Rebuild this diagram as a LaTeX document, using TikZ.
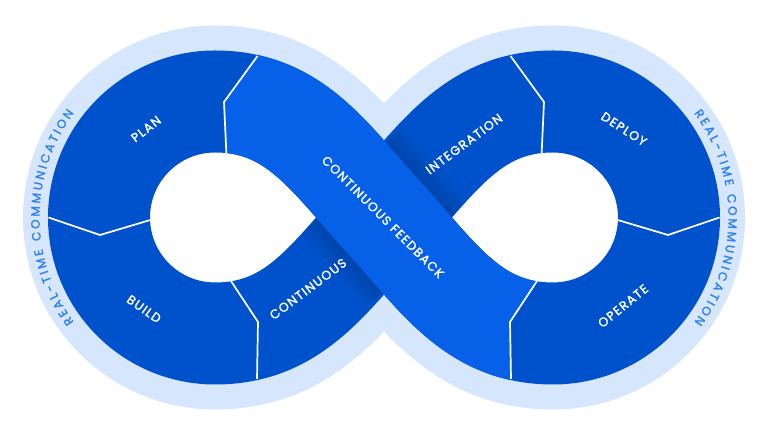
\documentclass[tikz,border=0pt]{standalone}
\usepackage{fontspec}
\setmainfont{Poppins}[LetterSpace=10, FakeBold=1.6]
\newfontfamily\rtcfont{Poppins}[FakeBold=1.8]
\usetikzlibrary{calc,decorations.text}
\definecolor{dark}{HTML}{0052CC}
\definecolor{bright}{HTML}{0760E8}
\definecolor{lightband}{HTML}{D6E6FC}
\definecolor{rtc}{HTML}{2F80F0}
\begin{document}
\begin{tikzpicture}[x=1pt,y=1pt,
  lbl/.style={text=white, font=\fontsize{12.5}{14}\selectfont},
  divider/.style={white, line width=1.7pt, line join=miter},
  eightpath/.style={insert path={(O) to[out=132.5,in=0] (LT) arc[start angle=90,end angle=270,radius=116] to[out=0,in=227.5] (O) to[out=47.5,in=180] (RT) arc[start angle=90,end angle=-90,radius=116] to[out=180,in=-47.5] (O)}},
  strandA/.style={insert path={(RB) to[out=180,in=-47.5] (O) to[out=132.5,in=0] (LT)}},
  rtcpath/.style={decorate, decoration={text along path, text align=fit to path, text={|\rtcfont\fontsize{12}{13}\selectfont\color{rtc}|REAL-TIME COMMUNICATION}}}]
\fill[white] (0,0) rectangle (768,435);
\useasboundingbox (0,0) rectangle (768,435);
\coordinate (O) at (384,217.5);
\coordinate (L) at (215,217.5);
\coordinate (R) at (553,217.5);
\coordinate (LT) at (215,333.5);
\coordinate (LB) at (215,101.5);
\coordinate (RT) at (553,333.5);
\coordinate (RB) at (553,101.5);
% light outer band
\draw[lightband, line width=152pt, eightpath];
% holes
\fill[white, eightpath];
% dark band
\draw[dark, line width=102pt, eightpath];
% shadow of the upper strand on the lower one
\begin{scope}
\clip ($(O)+(47.5:80)+(137.5:49)$) -- ($(O)+(47.5:80)+(-42.5:49)$) -- ($(O)+(227.5:80)+(-42.5:49)$) -- ($(O)+(227.5:80)+(137.5:49)$) -- cycle;
\foreach \w in {110,118,126,134,142,150}
  \draw[black, opacity=0.022, line width=\w pt, strandA];
\end{scope}
% bright strand
\begin{scope}
\clip (324.5,471) -- (257.5,379) -- (224,333) -- (226.5,279) -- (228,-20) -- (511,-20) -- (511,56) -- (510,113) -- (539,157) -- (597,245) -- (800,471) -- cycle;
\draw[bright, line width=102pt, strandA];
\end{scope}
% dividers
\draw[divider] (257.5,379) -- (224,333) -- (226.5,279);
\draw[divider] (48.5,217.5) -- (100,200) -- (152,215.5);
\draw[divider] (229,157) -- (258,113) -- (257,56);
\draw[divider] (510.5,379) -- (544,333) -- (541.5,279);
\draw[divider] (719.5,217.5) -- (668,200) -- (616,215.5);
\draw[divider] (539,157) -- (510,113) -- (511,56);
% labels
\node[lbl, rotate=38] (plan) at (146,306) {PLAN};
\node[lbl, rotate=-35] (build) at (144,126) {BUILD};
\node[lbl, rotate=37] (cont) at (308,146) {CONTINUOUS};
\node[lbl, rotate=-45] (feedback) at (383,218) {CONTINUOUS FEEDBACK};
\node[lbl, rotate=36.6] (integ) at (464,291) {INTEGRATION};
\node[lbl, rotate=-33] (deploy) at (624,306) {DEPLOY};
\node[lbl, rotate=39] (operate) at (623,129) {OPERATE};
% real-time communication
\path[rtcpath] ($(L)+(216.5:175.5)$) arc[start angle=216.5, end angle=143.5, radius=175.5];
\path[rtcpath] ($(R)+(36.5:175.5)$) arc[start angle=36.5, end angle=-36.5, radius=175.5];
\end{tikzpicture}
\end{document}
